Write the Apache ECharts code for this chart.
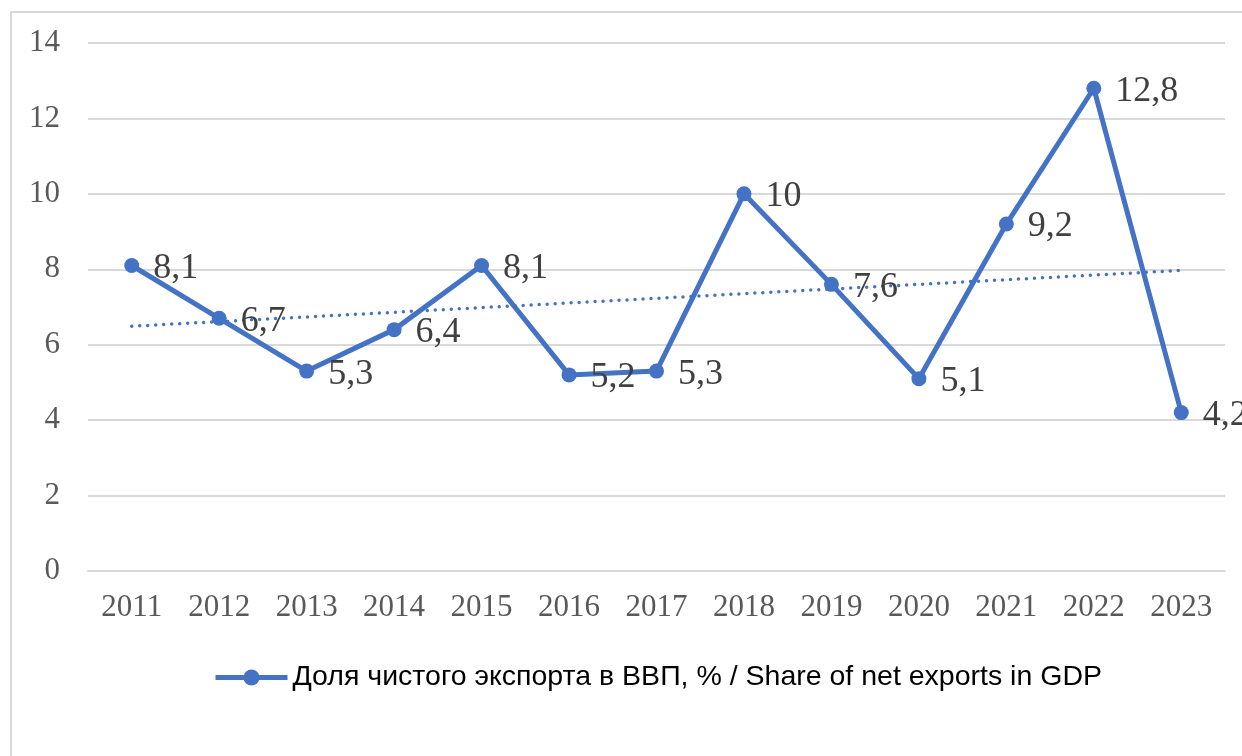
<!DOCTYPE html>
<html>
<head>
<meta charset="utf-8">
<script src="https://cdn.jsdelivr.net/npm/echarts@6/dist/echarts.min.js"></script>
<style>
    html, body { margin: 0; padding: 0; background: #fff; }
    #chart { width: 1242px; height: 756px; }
</style>
</head>
<body>
<div id="chart"></div>
<script>
    const years = ['2011', '2012', '2013', '2014', '2015', '2016', '2017', '2018', '2019', '2020', '2021', '2022', '2023'];
    const netExportShare = [8.1, 6.7, 5.3, 6.4, 8.1, 5.2, 5.3, 10, 7.6, 5.1, 9.2, 12.8, 4.2];
    // linear trend as drawn in the picture (value at first and last year)
    const trendYears = ['2011', '2023'];
    const trendValues = [6.49, 7.97];
    const seriesName = 'Доля чистого экспорта в ВВП, % / Share of net exports in GDP';

    const serif = '"Liberation Serif", "DejaVu Serif", serif';
    const myChart = echarts.init(document.getElementById('chart'));

    const chartOption = {
        animation: false,
        graphic: [{
            type: 'rect',
            shape: { x: 11, y: 12, width: 1300, height: 800 },
            style: { fill: 'none', stroke: '#d9d9d9', lineWidth: 2 },
            silent: true
        }],
        grid: {
            left: 88,
            right: 17,
            top: 43,
            bottom: 185
        },
        legend: {
            data: [seriesName],
            left: 208,
            top: 658,
            itemWidth: 72,
            itemHeight: 20,
            itemGap: 8,
            lineStyle: { width: 5 },
            textStyle: {
                fontFamily: '"Liberation Sans", Arial, sans-serif',
                fontSize: 28.5,
                color: '#000'
            }
        },
        xAxis: {
            type: 'category',
            data: years,
            boundaryGap: true,
            axisLine: { lineStyle: { color: '#d9d9d9', width: 2 } },
            axisTick: { show: false },
            axisLabel: {
                fontFamily: serif,
                fontSize: 31,
                color: '#595959',
                margin: 21
            }
        },
        yAxis: {
            type: 'value',
            min: 0,
            max: 14,
            interval: 2,
            axisLine: { show: false },
            axisTick: { show: false },
            splitLine: { lineStyle: { color: '#d9d9d9', width: 2 } },
            axisLabel: {
                fontFamily: serif,
                fontSize: 31,
                color: '#595959',
                margin: 28
            }
        },
        series: [
            {
                name: seriesName,
                type: 'line',
                data: netExportShare,
                symbol: 'circle',
                symbolSize: 15,
                lineStyle: { color: '#4472C4', width: 5 },
                itemStyle: { color: '#4472C4' },
                label: {
                    show: true,
                    position: 'right',
                    distance: 14,
                    offset: [0, 3],
                    fontFamily: serif,
                    fontSize: 36,
                    color: '#404040',
                    formatter: p => String(p.value).replace('.', ',')
                },
                z: 3
            },
            {
                name: 'trend',
                type: 'line',
                data: trendYears.map((y, i) => [y, trendValues[i]]),
                symbol: 'none',
                lineStyle: { color: '#4472C4', width: 3.5, type: [0, 8], cap: 'round' },
                silent: true,
                z: 2
            }
        ]
    };
    myChart.setOption(chartOption);
</script>
</body>
</html>
